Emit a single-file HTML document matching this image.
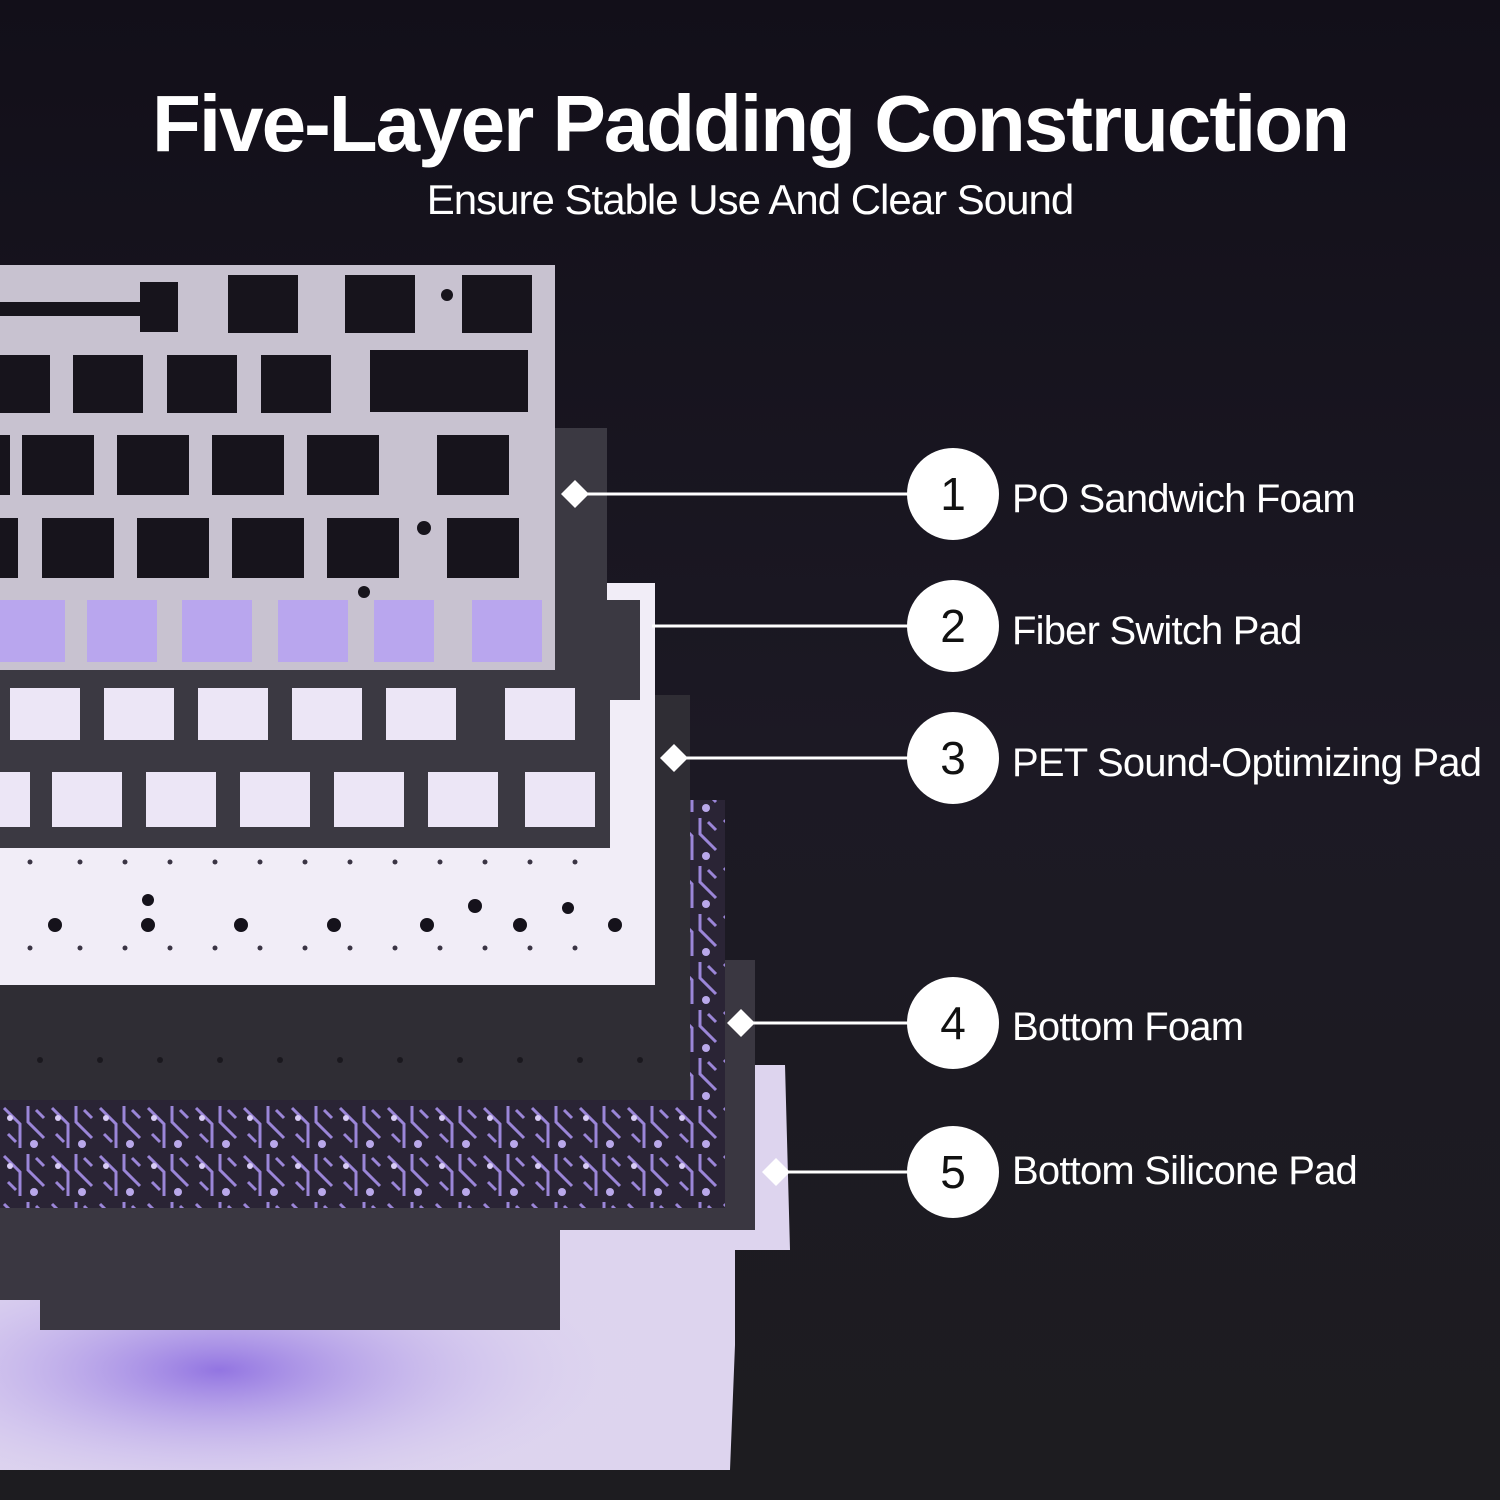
<!DOCTYPE html>
<html><head><meta charset="utf-8"><style>
html,body{margin:0;padding:0;width:1500px;height:1500px;overflow:hidden;background:#16131d}
svg{display:block}
</style></head><body>
<svg width="1500" height="1500" viewBox="0 0 1500 1500" xmlns="http://www.w3.org/2000/svg">
<defs>
<linearGradient id="bg" x1="0" y1="0" x2="0" y2="1">
<stop offset="0" stop-color="#120f19"/><stop offset="0.5" stop-color="#1c1924"/><stop offset="1" stop-color="#1d1c20"/>
</linearGradient>
<radialGradient id="glow" cx="0.3" cy="0.6" r="0.6">
<stop offset="0" stop-color="#8a6ae0" stop-opacity="0.9"/><stop offset="1" stop-color="#e8e0f6" stop-opacity="0"/>
</radialGradient>
<pattern id="pcb" width="48" height="48" patternUnits="userSpaceOnUse">
<rect width="48" height="48" fill="#2a2435"/>
<path d="M4 4 L20 20 L20 44 M28 2 L28 18 L44 34 M8 30 L16 38 M36 6 L44 14" stroke="#9b86d8" stroke-width="3" fill="none"/>
<circle cx="34" cy="40" r="4" fill="#b9a8ea"/><circle cx="10" cy="14" r="3" fill="#d8ccf5"/>
</pattern>
</defs>
<rect width="1500" height="1500" fill="url(#bg)"/>

<path d="M0 1065 L785 1065 L790 1250 L735 1250 L735 1345 L730 1470 L0 1470 Z" fill="#ddd4ee"/>
<rect x="0" y="1220" width="730" height="250" fill="url(#glow)"/>
<rect x="280" y="1272" width="35" height="25" fill="#7b5ad6"/>
<path d="M0 960 L755 960 L755 1230 L560 1230 L560 1330 L40 1330 L40 1300 L0 1300 Z" fill="#3a3741"/>
<rect x="0" y="800" width="725" height="408" fill="url(#pcb)"/>
<rect x="0" y="695" width="690" height="405" fill="#2f2d34"/>
<g fill="#1a181e">
<circle cx="40" cy="1060" r="3"/><circle cx="100" cy="1060" r="3"/><circle cx="160" cy="1060" r="3"/><circle cx="220" cy="1060" r="3"/><circle cx="280" cy="1060" r="3"/><circle cx="340" cy="1060" r="3"/><circle cx="400" cy="1060" r="3"/><circle cx="460" cy="1060" r="3"/><circle cx="520" cy="1060" r="3"/><circle cx="580" cy="1060" r="3"/><circle cx="640" cy="1060" r="3"/>
</g>
<rect x="0" y="583" width="655" height="402" fill="#f1edf7"/>
<g fill="#15121b">
<circle cx="55" cy="925" r="7"/><circle cx="148" cy="925" r="7"/><circle cx="241" cy="925" r="7"/><circle cx="334" cy="925" r="7"/><circle cx="427" cy="925" r="7"/><circle cx="520" cy="925" r="7"/><circle cx="615" cy="925" r="7"/>
<circle cx="148" cy="900" r="6"/><circle cx="475" cy="906" r="7"/><circle cx="568" cy="908" r="6"/>
</g>
<g fill="#3a3444">
<circle cx="30" cy="948" r="2.5"/><circle cx="80" cy="948" r="2.5"/><circle cx="125" cy="948" r="2.5"/><circle cx="170" cy="948" r="2.5"/><circle cx="215" cy="948" r="2.5"/><circle cx="260" cy="948" r="2.5"/><circle cx="305" cy="948" r="2.5"/><circle cx="350" cy="948" r="2.5"/><circle cx="395" cy="948" r="2.5"/><circle cx="440" cy="948" r="2.5"/><circle cx="485" cy="948" r="2.5"/><circle cx="530" cy="948" r="2.5"/><circle cx="575" cy="948" r="2.5"/>
<circle cx="30" cy="862" r="2.5"/><circle cx="80" cy="862" r="2.5"/><circle cx="125" cy="862" r="2.5"/><circle cx="170" cy="862" r="2.5"/><circle cx="215" cy="862" r="2.5"/><circle cx="260" cy="862" r="2.5"/><circle cx="305" cy="862" r="2.5"/><circle cx="350" cy="862" r="2.5"/><circle cx="395" cy="862" r="2.5"/><circle cx="440" cy="862" r="2.5"/><circle cx="485" cy="862" r="2.5"/><circle cx="530" cy="862" r="2.5"/><circle cx="575" cy="862" r="2.5"/>
</g>
<path d="M0 428 L607 428 L607 600 L640 600 L640 700 L610 700 L610 848 L0 848 Z" fill="#3b3942"/>
<g fill="#ece6f6">
<rect x="10" y="688" width="70" height="52"/><rect x="104" y="688" width="70" height="52"/><rect x="198" y="688" width="70" height="52"/><rect x="292" y="688" width="70" height="52"/><rect x="386" y="688" width="70" height="52"/><rect x="505" y="688" width="70" height="52"/>
<rect x="0" y="772" width="30" height="55"/><rect x="52" y="772" width="70" height="55"/><rect x="146" y="772" width="70" height="55"/><rect x="240" y="772" width="70" height="55"/><rect x="334" y="772" width="70" height="55"/><rect x="428" y="772" width="70" height="55"/><rect x="525" y="772" width="70" height="55"/>
</g>
<rect x="0" y="265" width="555" height="405" fill="#c8c2d0"/>
<g fill="#17141c">
<rect x="0" y="302" width="140" height="14"/><rect x="140" y="282" width="38" height="50"/>
<rect x="228" y="275" width="70" height="58"/><rect x="345" y="275" width="70" height="58"/><rect x="462" y="275" width="70" height="58"/>
<rect x="0" y="355" width="50" height="58"/><rect x="73" y="355" width="70" height="58"/><rect x="167" y="355" width="70" height="58"/><rect x="261" y="355" width="70" height="58"/><rect x="370" y="350" width="158" height="62"/>
<rect x="0" y="435" width="10" height="60"/><rect x="22" y="435" width="72" height="60"/><rect x="117" y="435" width="72" height="60"/><rect x="212" y="435" width="72" height="60"/><rect x="307" y="435" width="72" height="60"/><rect x="437" y="435" width="72" height="60"/>
<rect x="0" y="518" width="18" height="60"/><rect x="42" y="518" width="72" height="60"/><rect x="137" y="518" width="72" height="60"/><rect x="232" y="518" width="72" height="60"/><rect x="327" y="518" width="72" height="60"/><rect x="447" y="518" width="72" height="60"/>
<circle cx="447" cy="295" r="6"/><circle cx="424" cy="528" r="7"/><circle cx="364" cy="592" r="6"/>
</g>
<g fill="#b9a6ee">
<rect x="0" y="600" width="65" height="62"/><rect x="87" y="600" width="70" height="62"/><rect x="182" y="600" width="70" height="62"/><rect x="278" y="600" width="70" height="62"/><rect x="374" y="600" width="60" height="62"/><rect x="472" y="600" width="70" height="62"/>
</g>

<text x="750" y="151" text-anchor="middle" font-family="Liberation Sans, sans-serif" font-weight="bold" font-size="80" fill="#fff" letter-spacing="-2">Five-Layer Padding Construction</text>
<text x="750" y="214" text-anchor="middle" font-family="Liberation Sans, sans-serif" font-size="42" fill="#fff" letter-spacing="-1">Ensure Stable Use And Clear Sound</text>

<g stroke="#fff" stroke-width="3">
<line x1="575" y1="494" x2="910" y2="494"/>
<line x1="652" y1="626" x2="910" y2="626"/>
<line x1="674" y1="758" x2="910" y2="758"/>
<line x1="741" y1="1023" x2="910" y2="1023"/>
<line x1="776" y1="1172" x2="910" y2="1172"/>
</g>
<g fill="#fff">
<path d="M575 480 L589 494 L575 508 L561 494Z"/>
<path d="M674 744 L688 758 L674 772 L660 758Z"/>
<path d="M741 1009 L755 1023 L741 1037 L727 1023Z"/>
<path d="M776 1158 L790 1172 L776 1186 L762 1172Z"/>
<circle cx="953" cy="494" r="46"/><circle cx="953" cy="626" r="46"/><circle cx="953" cy="758" r="46"/><circle cx="953" cy="1023" r="46"/><circle cx="953" cy="1172" r="46"/>
</g>
<g font-family="Liberation Sans, sans-serif" font-size="46" fill="#111" text-anchor="middle">
<text x="953" y="510">1</text><text x="953" y="642">2</text><text x="953" y="774">3</text><text x="953" y="1039">4</text><text x="953" y="1188">5</text>
</g>
<g font-family="Liberation Sans, sans-serif" font-size="40" fill="#fff" letter-spacing="-0.8">
<text x="1012" y="512">PO Sandwich Foam</text>
<text x="1012" y="644">Fiber Switch Pad</text>
<text x="1012" y="776">PET Sound-Optimizing Pad</text>
<text x="1012" y="1040">Bottom Foam</text>
<text x="1012" y="1184">Bottom Silicone Pad</text>
</g>
</svg>
</body></html>
